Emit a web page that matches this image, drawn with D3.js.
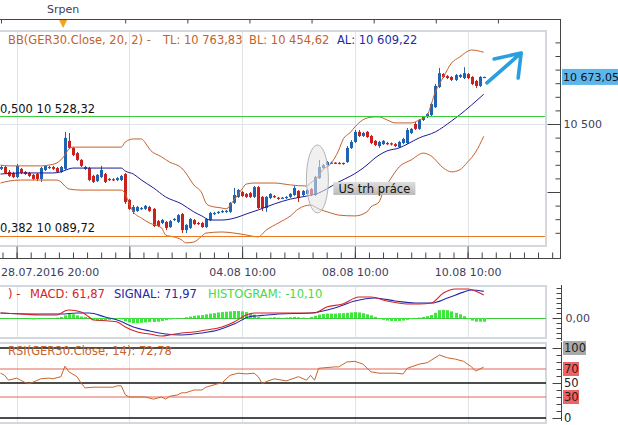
<!DOCTYPE html>
<html><head><meta charset="utf-8">
<script src="https://cdn.jsdelivr.net/npm/d3@7"></script>
<style>html,body{margin:0;padding:0;background:#fff;overflow:hidden}svg{display:block;font-family:"DejaVu Sans",Verdana,sans-serif}</style>
</head><body>
<svg id="chart" width="618" height="425"></svg>
<script>
// ---------------- DATA ----------------
const open  = [10335,10342,10324,10320,10305,10335,10324,10320,10313,10316,10298,10331,10338,10342,10338,10324,10335,10438,10412,10393,10368,10335,10338,10309,10290,10305,10316,10298,10297,10294,10294,10316,10221,10177,10180,10188,10188,10195,10188,10143,10136,10140,10121,10147,10140,10169,10110,10118,10147,10136,10136,10121,10147,10169,10173,10177,10178,10177,10210,10232,10250,10243,10246,10232,10268,10232,10191,10228,10235,10229,10226,10228,10232,10239,10254,10239,10243,10261,10239,10301,10338,10349,10356,10358,10357,10357,10360,10412,10434,10471,10456,10471,10456,10438,10419,10426,10430,10429,10426,10415,10430,10430,10467,10500,10482,10515,10526,10533,10562,10636,10684,10676,10673,10662,10673,10669,10684,10673,10658,10640,10672];
const high  = [10349,10346,10331,10324,10353,10338,10327,10324,10316,10320,10342,10349,10346,10346,10342,10346,10471,10467,10415,10397,10371,10346,10342,10313,10316,10346,10320,10301,10301,10305,10313,10320,10224,10202,10199,10195,10202,10199,10191,10147,10151,10143,10147,10154,10169,10173,10132,10154,10151,10140,10140,10154,10177,10177,10180,10184,10184,10213,10265,10261,10254,10246,10250,10272,10272,10235,10235,10246,10239,10232,10232,10235,10246,10272,10257,10257,10261,10265,10309,10368,10353,10364,10362,10360,10360,10358,10419,10441,10478,10478,10471,10474,10460,10441,10438,10441,10434,10432,10430,10438,10449,10485,10485,10507,10518,10529,10540,10577,10647,10706,10687,10680,10676,10684,10684,10709,10687,10676,10662,10676,10674];
const low   = [10331,10316,10305,10301,10301,10316,10313,10305,10294,10290,10287,10327,10335,10331,10320,10320,10331,10408,10382,10364,10342,10331,10290,10283,10287,10301,10283,10290,10290,10290,10290,10206,10184,10169,10177,10184,10184,10177,10121,10121,10132,10110,10118,10143,10136,10099,10099,10114,10129,10129,10118,10118,10143,10165,10169,10173,10173,10173,10206,10228,10232,10228,10228,10228,10188,10180,10177,10224,10228,10221,10224,10224,10228,10235,10213,10235,10239,10235,10235,10298,10335,10346,10353,10353,10352,10350,10357,10408,10430,10452,10452,10449,10426,10419,10412,10423,10423,10421,10415,10412,10426,10426,10463,10478,10478,10511,10522,10529,10559,10632,10669,10665,10658,10658,10669,10665,10665,10643,10632,10636,10671];
const close = [10342,10320,10309,10305,10346,10320,10316,10309,10298,10298,10338,10346,10342,10335,10324,10342,10449,10412,10386,10368,10346,10342,10294,10287,10313,10331,10287,10294,10295,10301,10309,10213,10188,10195,10195,10191,10199,10180,10125,10125,10147,10118,10143,10151,10165,10110,10129,10151,10132,10132,10121,10151,10173,10173,10177,10180,10181,10210,10239,10257,10235,10232,10232,10268,10191,10191,10232,10243,10232,10227,10229,10232,10243,10265,10228,10254,10257,10239,10305,10342,10349,10360,10358,10356,10355,10354,10412,10434,10471,10456,10467,10452,10430,10423,10434,10438,10426,10425,10419,10434,10445,10478,10482,10482,10515,10526,10537,10574,10640,10687,10673,10669,10662,10680,10680,10687,10669,10647,10640,10673,10673.05];

// Bollinger bands & moving average: [candle index, price]
const bbUpper = [[0,10349],[2,10346],[5,10346],[10,10346],[12,10349],[14,10357],[15,10368],[16,10386],[17,10408],[18,10415],[22,10415],[30,10415],[31,10434],[33,10445],[35,10445],[36,10430],[37,10408],[40,10379],[42,10360],[45,10338],[46,10320],[48,10276],[50,10246],[51,10210],[52,10199],[55,10191],[56,10188],[58,10221],[60,10261],[61,10279],[63,10283],[68,10283],[72,10276],[76,10272],[77,10283],[79,10309],[80,10331],[82,10353],[84,10404],[85,10441],[87,10471],[88,10489],[89,10504],[91,10522],[93,10526],[94,10526],[96,10515],[98,10504],[102,10504],[104,10515],[106,10533],[107,10574],[108,10618],[109,10647],[110,10673],[112,10724],[114,10746],[117,10772],[120,10763.83]];
const bbLower = [[0,10283],[2,10290],[5,10294],[14,10294],[15,10287],[16,10272],[17,10261],[20,10257],[30,10257],[31,10243],[32,10206],[33,10177],[35,10154],[37,10136],[40,10118],[41,10092],[43,10085],[45,10074],[46,10063],[48,10066],[50,10088],[51,10099],[55,10103],[58,10099],[61,10092],[64,10085],[66,10110],[69,10136],[72,10162],[74,10188],[77,10202],[79,10188],[82,10173],[84,10165],[88,10162],[91,10177],[92,10195],[94,10213],[95,10250],[97,10301],[99,10342],[102,10368],[105,10393],[107,10382],[110,10338],[112,10324],[114,10331],[116,10360],[118,10397],[120,10454.62]];
const maLine  = [[0,10316],[5,10320],[13,10320],[15,10324],[17,10335],[18,10338],[30,10338],[31,10327],[33,10316],[35,10294],[38,10265],[41,10232],[45,10206],[48,10177],[50,10162],[52,10147],[55,10147],[59,10158],[61,10169],[64,10184],[68,10206],[72,10224],[76,10235],[79,10246],[81,10261],[84,10287],[87,10309],[89,10327],[91,10349],[93,10375],[96,10401],[99,10412],[101,10426],[104,10449],[108,10471],[112,10511],[114,10533],[117,10570],[120,10609.22]];

// MACD panel: [index, value]
const macdLine = [[0,13.5],[5,10.8],[10,8.1],[14,8.1],[16,19],[17,21.6],[20,16.2],[22,2.7],[23,-5.4],[27,-8.1],[29,-10.8],[31,-24.3],[34,-37.8],[37,-43.2],[40,-48.6],[42,-45.9],[45,-40.5],[48,-37.8],[51,-32.4],[55,-24.3],[58,-10.8],[61,8.1],[63,13.5],[68,13.5],[72,13.5],[78,13.5],[81,29.7],[85,37.8],[89,56.8],[92,56.8],[96,45.9],[101,37.8],[104,37.8],[107,40.5],[110,67.6],[113,78.4],[116,78.4],[119,67.6],[120,61.87]];
const signalLine = [[0,13.5],[8,10.8],[15,10.8],[19,13.5],[22,13.5],[26,2.7],[29,-5.4],[33,-24.3],[37,-35.1],[41,-43.2],[45,-45.9],[50,-40.5],[54,-32.4],[58,-16.2],[62,4],[65,7],[69,10.8],[77,13.5],[83,27],[88,46],[93,54],[98,46],[103,40.5],[107,40.5],[111,54],[115,70],[117,75.7],[120,71.97]];
const histogram = [0,0,-1,-1,0,0,0,-3,-4,-3,-2,-1,0,0,1,3,7,11,10,7,4,3,1,-5,-7,-8,-6,-5,-3,-2,-4,-9,-12,-14,-14,-13,-12,-11,-11,-10,-8,-6,-4,-2,-1,0,2,4,6,7,8,10,12,13,15,16,17,18,19,19,18,16,13,9,3,-1,-2,1,2,1,0,1,2,3,2,1,0,3,6,9,11,12,12,12,13,13,14,15,16,15,13,10,7,3,-2,-5,-7,-8,-8,-8,-7,-5,-3,-1,1,3,5,8,14,21,22,21,18,14,10,5,-3,-7,-10,-10,-10.10];

// RSI: [index, value]
const rsiLine = [[0,64],[1,61],[2,54],[4,57],[5,54],[6,51],[7,49],[8,51],[10,56],[12,57],[13,56],[15,59],[16,74],[17,66],[19,59],[20,50],[21,43],[23,44],[25,44],[26,44],[28,44],[29,46],[30,46],[31,33],[32,30],[35,30],[36,30],[38,27],[40,30],[41,27],[42,31],[44,33],[45,36],[46,36],[48,40],[50,40],[51,44],[54,49],[55,50],[57,61],[59,64],[61,63],[63,64],[64,59],[65,49],[66,52],[68,56],[71,53],[74,59],[76,54],[77,61],[78,54],[79,71],[83,73],[84,73],[86,80],[88,81],[90,77],[92,66],[94,64],[98,64],[100,63],[101,71],[104,77],[106,79],[109,90],[111,86],[113,84],[115,81],[117,73],[118,67],[120,72.78]];
const rsiLevels = [100,70,50,30,0];

// Fibonacci levels
const fibRatios = [0.5, 0.382];
const fibValues = [10528.32, 10089.72];

// Axis tick data
const dateTickIdx = [4,32,60,88,116];
const dateTickLabels = ["28.07.2016 20:00","","04.08 10:00","08.08 10:00","10.08 10:00"];
const monthLabel = "Srpen";
const priceLabelValues = [10500];

// Annotation
const noteText = "US trh práce";
const noteIdx = 78.7, notePrice = 10298;
const arrowFrom = [120.8, 10651], arrowTo = [129.3, 10761];

// ---------------- DRAWING ----------------
const svg = d3.select("#chart");
const loc = d3.formatLocale({decimal:",", thousands:" ", grouping:[3], currency:["",""], minus:"-"});
const f2 = loc.format(",.2f"), f3 = loc.format(".3f");
const UP="#2163b3", DN="#c9211e", BBC="#c4622c", MAC="#1c1c94", AXC="#3d3d5c";

const N = close.length;
const x  = d3.scaleLinear().domain([0,120]).range([0.5,483.7]);
const y  = d3.scaleLinear().domain([10000,10500]).range([260,124]);
const yM = d3.scaleLinear().domain([0,50]).range([318,299.5]);
const yR = d3.scaleLinear().domain([0,100]).range([418,348]);
const xTop = d3.scaleLinear().domain([0,9]).range([1,560]);

const defs = svg.append("defs");
function clip(id,x0,y0,x1,y1){defs.append("clipPath").attr("id",id).append("rect").attr("x",x0).attr("y",y0).attr("width",x1-x0).attr("height",y1-y0);}
clip("cMain",0,32,545,245); clip("cMacd",0,287,546,337); clip("cRsi",0,344,546,422);

function panel(y0,y1){
  svg.append("rect").attr("x",-3).attr("y",y0).attr("width",549).attr("height",y1-y0)
    .attr("fill","#fff").attr("stroke","#d2d8de").attr("stroke-width",2);
}
panel(31,246); panel(286,338); panel(343,423);

// vertical gridlines
[[32,245],[287,337],[344,422]].forEach(([a,b])=>{
  svg.append("g").selectAll("line").data(dateTickIdx).join("line")
    .attr("x1",d=>Math.round(x(d))+0.5).attr("x2",d=>Math.round(x(d))+0.5)
    .attr("y1",a).attr("y2",b).attr("stroke","#dfe4e9");
});
// horizontal gridline at labelled price
svg.append("g").selectAll("line").data(priceLabelValues).join("line")
  .attr("x1",0).attr("x2",545).attr("y1",d=>Math.round(y(d))+0.5).attr("y2",d=>Math.round(y(d))+0.5).attr("stroke","#dfe4e9");

// ---- main panel ----
const gM = svg.append("g").attr("clip-path","url(#cMain)");
const cd = d3.range(N).map(i=>({i,o:open[i],h:high[i],l:low[i],c:close[i]}));
gM.selectAll("line.w").data(cd).join("line").attr("class","w")
  .attr("x1",d=>Math.round(x(d.i))+0.5).attr("x2",d=>Math.round(x(d.i))+0.5)
  .attr("y1",d=>y(d.h)).attr("y2",d=>y(d.l)).attr("stroke",d=>d.c>=d.o?UP:DN);
gM.selectAll("rect.b").data(cd).join("rect").attr("class","b")
  .attr("x",d=>Math.round(x(d.i))-1).attr("width",3)
  .attr("y",d=>y(Math.max(d.o,d.c))).attr("height",d=>Math.max(1.2,Math.abs(y(d.o)-y(d.c))))
  .attr("fill",d=>d.c>=d.o?UP:DN);

const lineP = d3.line().x(d=>x(d[0])).y(d=>y(d[1])).curve(d3.curveMonotoneX);
[[bbUpper,BBC],[bbLower,BBC],[maLine,MAC]].forEach(([data,col])=>{
  gM.append("path").datum(data).attr("d",lineP).attr("fill","none").attr("stroke",col).attr("stroke-width",1);
});

const fibCols = ["#3ccc3c","#ec7a24"];
fibValues.forEach((v,k)=>{
  svg.append("line").attr("x1",0).attr("x2",545).attr("y1",Math.round(y(v))+0.5).attr("y2",Math.round(y(v))+0.5)
    .attr("stroke",fibCols[k]).attr("stroke-width",1.2);
  svg.append("text").attr("x",0).attr("y",y(v)-3.5).attr("font-size",11.5).attr("fill","#111")
    .text(f3(fibRatios[k])+" "+f2(v));
});

// annotation ellipse + label
const ex = x(noteIdx), ey = y(notePrice);
svg.append("ellipse").attr("cx",ex).attr("cy",ey).attr("rx",11).attr("ry",34)
  .attr("fill","#e4e4e4").attr("fill-opacity",0.55).attr("stroke","#b4b4b4");
const lg = defs.append("linearGradient").attr("id","gbox").attr("x1",0).attr("x2",0).attr("y1",0).attr("y2",1);
lg.append("stop").attr("offset",0).attr("stop-color","#dedede");
lg.append("stop").attr("offset",1).attr("stop-color","#b9b9b9");
svg.append("rect").attr("x",ex+16).attr("y",ey+3).attr("width",82).attr("height",13).attr("fill","url(#gbox)");
svg.append("text").attr("x",ex+21).attr("y",ey+14).attr("font-size",11.5).attr("fill","#111").text(noteText);

// arrow
const ax0=x(arrowFrom[0]), ay0=y(arrowFrom[1]), ax1=x(arrowTo[0]), ay1=y(arrowTo[1]);
svg.append("path").attr("d",`M${ax0},${ay0}L${ax1},${ay1}M${ax1-27},${ay1+6}L${ax1},${ay1}L${ax1-3},${ay1+25}`)
  .attr("fill","none").attr("stroke","#2a9fe0").attr("stroke-width",3.6).attr("stroke-linecap","round").attr("stroke-linejoin","round");

// BB legend
const leg = svg.append("text").attr("y",43.5).attr("font-size",11.5);
leg.append("tspan").attr("x",8).attr("fill",BBC).text("BB(GER30.Close, 20, 2) -");
leg.append("tspan").attr("x",163).attr("fill",BBC).text("TL: "+f2(bbUpper[bbUpper.length-1][1]));
leg.append("tspan").attr("x",249).attr("fill",BBC).text("BL: "+f2(bbLower[bbLower.length-1][1]));
leg.append("tspan").attr("x",337).attr("fill","#1f2aa8").text("AL: "+f2(maLine[maLine.length-1][1]));

// ---- top axis ----
svg.append("line").attr("x1",0).attr("x2",561).attr("y1",19.5).attr("y2",19.5).attr("stroke","#444");
const gTop = svg.append("g").attr("transform","translate(0,19.5)")
  .call(d3.axisBottom(xTop).ticks(9).tickSizeInner(4).tickSizeOuter(0).tickFormat(""));
gTop.select(".domain").remove();
gTop.selectAll("line").attr("stroke","#444");
svg.append("text").attr("x",xTop(1)).attr("y",13).attr("text-anchor","middle").attr("font-size",11).attr("fill",AXC).text(monthLabel);
svg.append("path").attr("d",`M${xTop(1)-4},20L${xTop(1)+4},20L${xTop(1)},28Z`).attr("fill","#f4a21e");

// ---- bottom axis ----
svg.append("line").attr("x1",0).attr("x2",561).attr("y1",258.5).attr("y2",258.5).attr("stroke","#444");
const gMin = svg.append("g").attr("transform","translate(0,258.5)")
  .call(d3.axisBottom(x).tickValues(d3.range(0.5,138,3.5)).tickSizeInner(-6).tickSizeOuter(0).tickFormat(""));
gMin.select(".domain").remove(); gMin.selectAll("line").attr("stroke","#444");
const gMaj = svg.append("g").attr("transform","translate(0,258.5)")
  .call(d3.axisBottom(x).tickValues(dateTickIdx).tickSizeInner(-12).tickSizeOuter(0).tickPadding(10)
    .tickFormat((d,k)=>dateTickLabels[k]));
gMaj.select(".domain").remove(); gMaj.selectAll("line").attr("stroke","#444");
gMaj.selectAll("text").attr("font-size",11).attr("fill",AXC).attr("font-family",'"DejaVu Sans",Verdana,sans-serif');
gMaj.selectAll("text").filter((d,k)=>k===0).attr("text-anchor","start").attr("x",0.5-x(dateTickIdx[0]));

// ---- right axis, main ----
svg.append("line").attr("x1",560.5).attr("x2",560.5).attr("y1",19).attr("y2",259).attr("stroke","#444");
const gR = svg.append("g").attr("transform","translate(560.5,0)")
  .call(d3.axisRight(y).tickValues(d3.range(10100,10801,50)).tickSizeInner(-5).tickSizeOuter(0).tickFormat(""));
gR.select(".domain").remove(); gR.selectAll("line").attr("stroke","#444");
const gR2 = svg.append("g").attr("transform","translate(560.5,0)")
  .call(d3.axisRight(y).tickValues([10250].concat(priceLabelValues)).tickSizeInner(-13).tickSizeOuter(0).tickPadding(3)
    .tickFormat(d=>priceLabelValues.includes(d)?loc.format(",.0f")(d):""));
gR2.select(".domain").remove(); gR2.selectAll("line").attr("stroke","#444");
gR2.selectAll("text").attr("font-size",11).attr("fill",AXC).attr("font-family",'"DejaVu Sans",Verdana,sans-serif');
// last price tag
const lastY = y(close[N-1]);
svg.append("rect").attr("x",562).attr("y",lastY-8).attr("width",60).attr("height",16).attr("fill","#5cb6ec");
svg.append("text").attr("x",563).attr("y",lastY+4).attr("font-size",11).attr("fill","#111").text(f2(close[N-1]));

// ---- MACD panel ----
const gD = svg.append("g").attr("clip-path","url(#cMacd)");
gD.append("line").attr("x1",0).attr("x2",546).attr("y1",yM(0)+0.5).attr("y2",yM(0)+0.5).attr("stroke","#3ccc3c");
gD.selectAll("rect").data(histogram.map((v,i)=>[i,v])).join("rect")
  .attr("x",d=>Math.round(x(d[0]))-1).attr("width",3)
  .attr("y",d=>Math.min(yM(0),yM(d[1]))).attr("height",d=>Math.abs(yM(d[1])-yM(0)))
  .attr("fill","#3de83d");
const lineM = d3.line().x(d=>x(d[0])).y(d=>yM(d[1])).curve(d3.curveMonotoneX);
gD.append("path").datum(signalLine).attr("d",lineM).attr("fill","none").attr("stroke","#2727a8").attr("stroke-width",1.1);
gD.append("path").datum(macdLine).attr("d",lineM).attr("fill","none").attr("stroke","#d42424").attr("stroke-width",1.1);
const legM = svg.append("text").attr("y",298).attr("font-size",11.5);
legM.append("tspan").attr("x",8).attr("fill",DN).text(") -");
legM.append("tspan").attr("x",30).attr("fill","#d42424").text("MACD: "+f2(macdLine[macdLine.length-1][1]));
legM.append("tspan").attr("x",114).attr("fill","#2727a8").text("SIGNAL: "+f2(signalLine[signalLine.length-1][1]));
legM.append("tspan").attr("x",208).attr("fill","#44dd44").text("HISTOGRAM: "+f2(histogram[N-1]));
svg.append("line").attr("x1",561.5).attr("x2",561.5).attr("y1",285).attr("y2",341).attr("stroke","#444");
const gMa = svg.append("g").attr("transform","translate(561.5,0)")
  .call(d3.axisRight(yM).tickValues([-54,-40.5,-27,-13.5,13.5,27,40.5,54,67.5,81]).tickSizeInner(-5).tickSizeOuter(0).tickFormat(""));
gMa.select(".domain").remove(); gMa.selectAll("line").attr("stroke","#444");
const gMb = svg.append("g").attr("transform","translate(561.5,0)")
  .call(d3.axisRight(yM).tickValues([0]).tickSizeInner(-9).tickSizeOuter(0).tickPadding(4).tickFormat(d=>f2(d)));
gMb.select(".domain").remove(); gMb.selectAll("line").attr("stroke","#444");
gMb.selectAll("text").attr("font-size",11).attr("fill",AXC).attr("font-family",'"DejaVu Sans",Verdana,sans-serif');

// ---- RSI panel ----
const gS = svg.append("g").attr("clip-path","url(#cRsi)");
const lvlCol = v=> (v===70||v===30)?"#e0685a":"#111";
gS.selectAll("line").data(rsiLevels).join("line")
  .attr("x1",0).attr("x2",546).attr("y1",d=>yR(d)).attr("y2",d=>yR(d))
  .attr("stroke",lvlCol).attr("stroke-width",d=>(d===70||d===30)?1:1.6);
gS.append("path").datum(rsiLine).attr("d",d3.line().x(d=>x(d[0])).y(d=>yR(d[1])))
  .attr("fill","none").attr("stroke","#c8642c").attr("stroke-width",1);
svg.append("text").attr("x",8).attr("y",354.5).attr("font-size",11.5).attr("fill","#c8642c")
  .text("RSI(GER30.Close, 14): "+f2(rsiLine[rsiLine.length-1][1]));
svg.append("line").attr("x1",561.5).attr("x2",561.5).attr("y1",342).attr("y2",421).attr("stroke","#444");
const gRa = svg.append("g").attr("transform","translate(561.5,0)")
  .call(d3.axisRight(yR).tickValues(d3.range(10,100,10).filter(v=>v!==50)).tickSizeInner(-5).tickSizeOuter(0).tickFormat(""));
gRa.select(".domain").remove(); gRa.selectAll("line").attr("stroke","#444");
const gRb = svg.append("g").attr("transform","translate(561.5,0)")
  .call(d3.axisRight(yR).tickValues([0,50,100]).tickSizeInner(-9).tickSizeOuter(0).tickFormat(""));
gRb.select(".domain").remove(); gRb.selectAll("line").attr("stroke","#444");
const boxCol = {100:"#a9a9a9",70:"#f26262",30:"#f26262"};
rsiLevels.forEach(v=>{
  const t = String(v);
  const w = t.length*7+2;
  if(boxCol[v]) svg.append("rect").attr("x",563).attr("y",yR(v)-7).attr("width",w).attr("height",14).attr("fill",boxCol[v]);
  svg.append("text").attr("x",564).attr("y",yR(v)+4).attr("font-size",11.5).attr("fill","#222").text(t);
});
</script>
</body></html>
